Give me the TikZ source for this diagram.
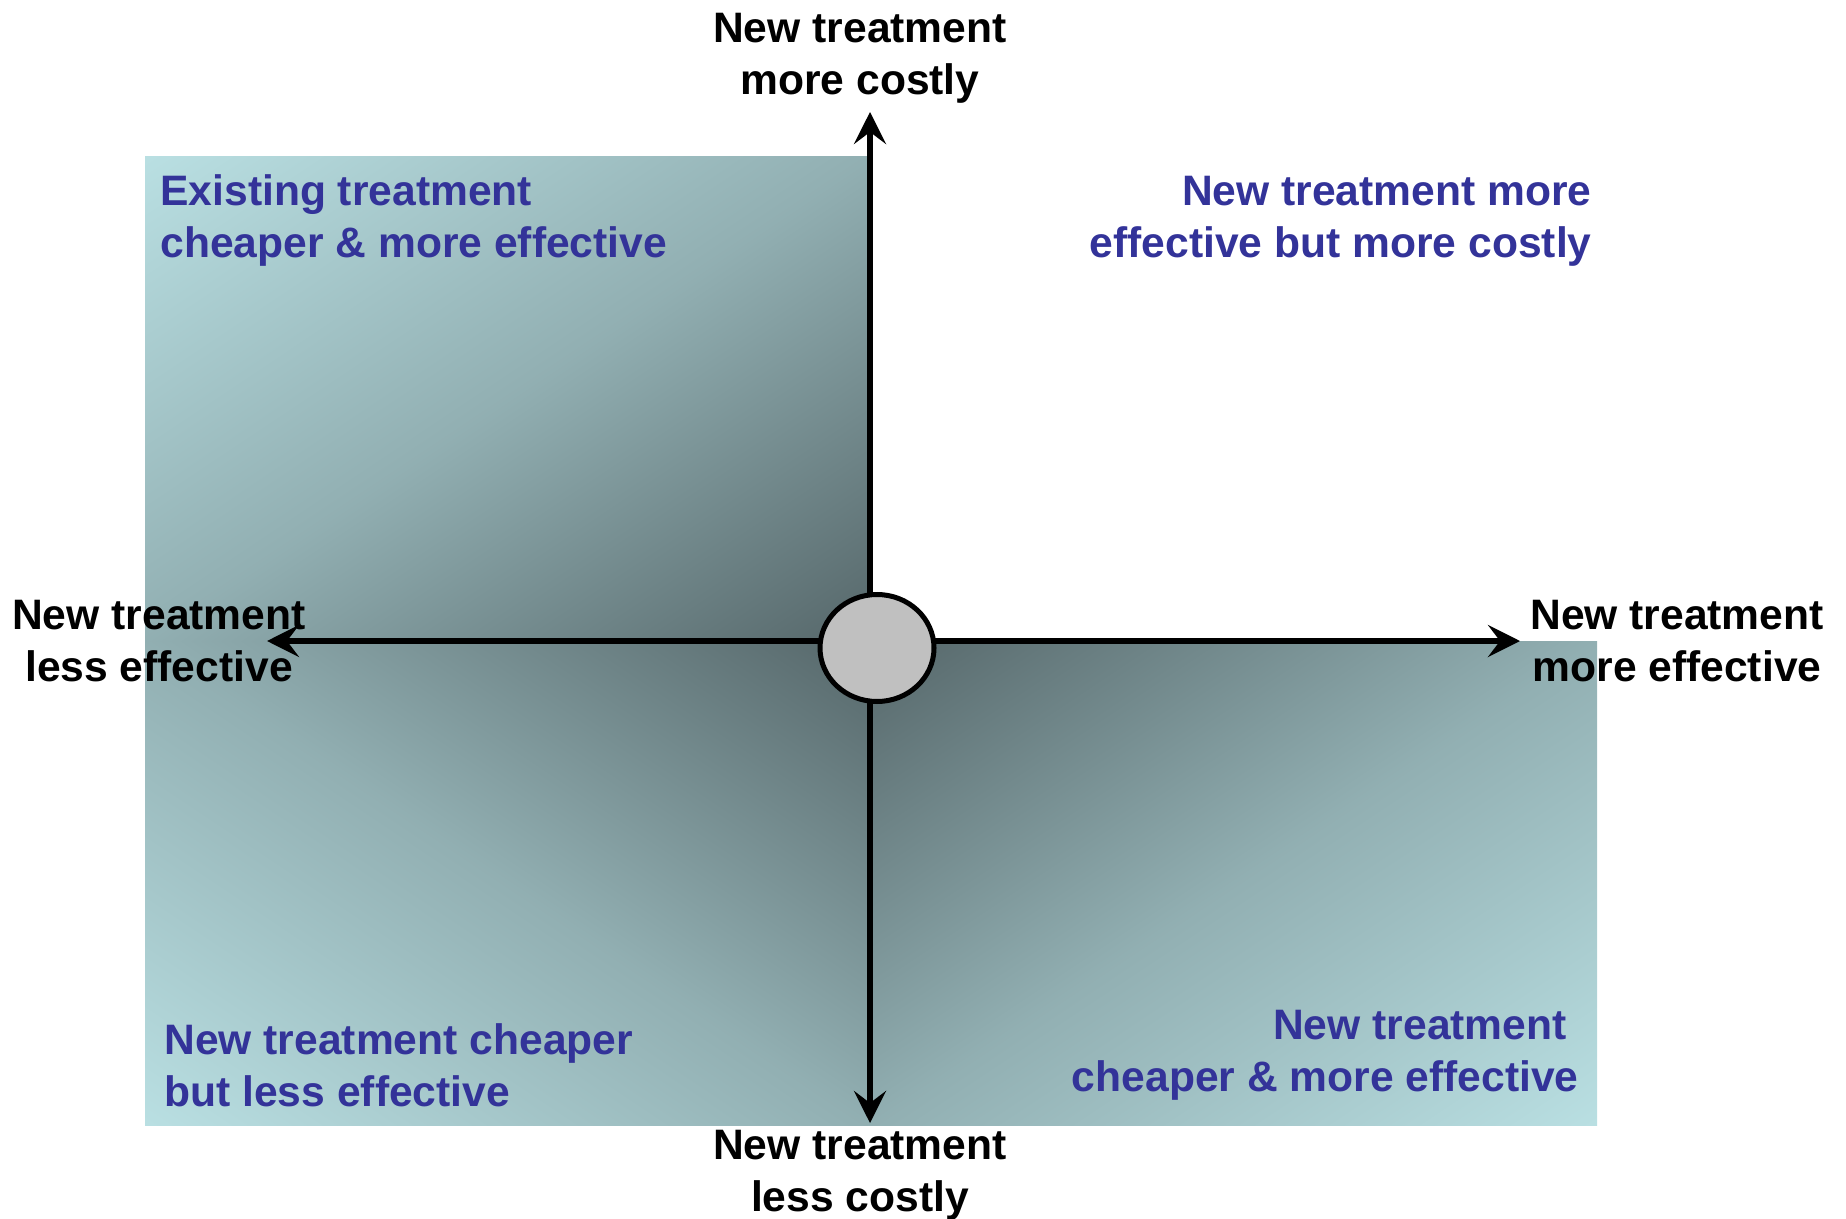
\documentclass[tikz,border=0pt]{standalone}
\usepackage{fontspec}
\setmainfont{Liberation Sans}
\usepackage{tikz}
\usetikzlibrary{arrows.meta, shapes.geometric}
\usepackage{xcolor}

\definecolor{qlight}{RGB}{185,223,226}
\definecolor{qdark}{RGB}{86,103,106}
\colorlet{qmid}{qlight!60!qdark}
\definecolor{qtext}{RGB}{51,51,153}
\definecolor{origfill}{RGB}{192,192,192}
% 从角落到中心的渐变
\pgfdeclareverticalshading{quadshade}{100bp}{color(0bp)=(qdark); color(14.64bp)=(qdark); color(50bp)=(qmid); color(85.36bp)=(qlight); color(100bp)=(qlight)}

\begin{document}
\begin{tikzpicture}[x=0.5pt, y=-0.5pt,
    quad/.style={shading=quadshade},
    axis/.style={line width=3pt, -{Stealth[length=16pt, width=16pt, inset=6pt]}},
    axlabel/.style={font=\bfseries\fontsize{21.3}{26}\selectfont, align=center, inner sep=0pt},
    qlabel/.style={font=\bfseries\fontsize{21.3}{26}\selectfont, text=qtext, inner sep=0pt},
    origin/.style={ellipse, draw, line width=2.5pt, fill=origfill, minimum width=57pt, minimum height=53.5pt, inner sep=0pt}]
\useasboundingbox (0,0) rectangle (1846,1219);
% 象限（单位方块拉伸到象限大小）
\shade[quad, shading angle=45, transform canvas={shift={(145,157)}, xscale=7.25, yscale=4.84}] (0,0) rectangle (100,100);
\shade[quad, shading angle=135, transform canvas={shift={(145,641)}, xscale=7.25, yscale=4.84}] (0,0) rectangle (100,100);
\shade[quad, shading angle=225, transform canvas={shift={(870,641)}, xscale=7.27, yscale=4.84}] (0,0) rectangle (100,100);
% 象限标签
\node[qlabel, anchor=base west, align=left] (tlText) at (160,258) {Existing treatment\\cheaper \& more effective};
\node[qlabel, anchor=base east, align=right] (trText) at (1592,258) {New treatment more\\effective but more costly};
\node[qlabel, anchor=base west, align=left] (blText) at (164,1106) {New treatment cheaper\\but less effective};
\node[qlabel, anchor=base east, align=right] (brText) at (1579,1091) {New treatment\hspace*{0.278em}\\cheaper \& more effective};
% 轴标签
\node[axlabel, anchor=base] (costUp) at (860,95) {New treatment\\more costly};
\node[axlabel, anchor=base] (costDown) at (860,1211) {New treatment\\less costly};
\node[axlabel, anchor=base] (effDown) at (159,681) {New treatment\\less effective};
\node[axlabel, anchor=base] (effUp) at (1677,681) {New treatment\\more effective};
% 坐标轴
\coordinate (ctr) at (870,641);
\coordinate (tipN) at (870,112);
\coordinate (tipS) at (870,1123);
\coordinate (tipW) at (267,641);
\coordinate (tipE) at (1520,641);
\draw[axis] (ctr) -- (tipN);
\draw[axis] (ctr) -- (tipS);
\draw[axis] (ctr) -- (tipW);
\draw[axis] (ctr) -- (tipE);
\node[origin] (orig) at (877,648) {};
\end{tikzpicture}
\end{document}
